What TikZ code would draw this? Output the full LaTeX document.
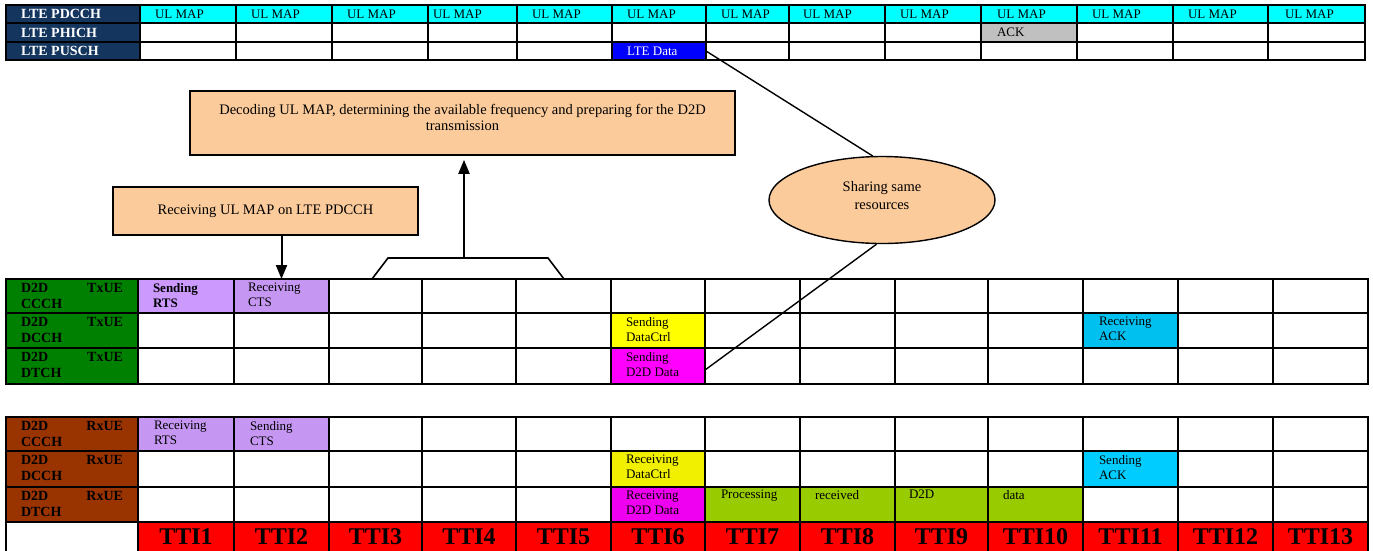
\documentclass[tikz,border=0pt]{standalone}
\usepackage{fontspec}
\setmainfont{Liberation Serif}
\usetikzlibrary{arrows.meta,shapes.geometric}
\definecolor{navy}{HTML}{14365E}
\definecolor{ulcyan}{HTML}{00FFFF}
\definecolor{ackgrey}{HTML}{C0C0C0}
\definecolor{ltedata}{HTML}{0000FF}
\definecolor{txgreen}{HTML}{008000}
\definecolor{rxbrown}{HTML}{993300}
\definecolor{lavA}{HTML}{CC99FF}
\definecolor{lavB}{HTML}{C597F2}
\definecolor{yelA}{HTML}{FFFF00}
\definecolor{yelB}{HTML}{F0F000}
\definecolor{magA}{HTML}{FF00FF}
\definecolor{magB}{HTML}{F000F0}
\definecolor{ackA}{HTML}{00C0F0}
\definecolor{ackB}{HTML}{00CCFF}
\definecolor{procgreen}{HTML}{99CC00}
\definecolor{ttired}{HTML}{FF0000}
\definecolor{peach}{HTML}{FBCB9B}

\def\TX{{6,140,236,332,428,517,612,706,789,885,981,1077,1173,1268,1365}}
\def\LX{{6,138,234,329,422,516,611,705,800,895,988,1083,1178,1273,1368}}

\newcommand{\mkrow}[5]{%
  \foreach \fc [count=\cc from 0] in {#5} {%
    \pgfmathsetmacro\xa{#2[\cc]}%
    \pgfmathsetmacro\xb{#2[\cc+1]}%
    \node[cellfill, fill=\fc, minimum width={\xb-\xa}, minimum height={(#4)-(#3)}]
      (#1-\cc) at ({(\xa+\xb)/2},{((#3)+(#4))/2}) {};%
  }}
\newcommand{\mkborder}[1]{%
  \foreach \cc in {0,...,13} {\draw[gridline] (#1-\cc.north west) rectangle (#1-\cc.south east);}}

\tikzset{
  cellfill/.style={inner sep=0pt, outer sep=0pt, draw=none},
  gridline/.style={draw=black, line width=1.8pt},
  ctext/.style={anchor=north west, inner sep=0pt, outer sep=0pt, align=left, font=\fontsize{13}{15}\selectfont},
  hdr/.style={anchor=north west, inner sep=0pt, outer sep=0pt, text width=102pt, align=left, font=\fontsize{14}{16}\selectfont\bfseries},
  tl/.style={anchor=west, inner sep=0pt, outer sep=0pt, font=\fontsize{13}{15}\selectfont},
  tophdr/.style={anchor=west, inner sep=0pt, outer sep=0pt, text=white, font=\fontsize{14}{16}\selectfont\bfseries},
  ttl/.style={inner sep=0pt, outer sep=0pt, font=\fontsize{24}{26}\selectfont\bfseries},
  callout/.style={draw=black, line width=1.6pt, fill=peach, inner sep=0pt},
  calltext/.style={inner sep=0pt, outer sep=0pt, align=center, font=\fontsize{14.5}{16.5}\selectfont},
  arr/.style={line width=2pt, -{Triangle[length=14pt,width=11pt]}},
  conn/.style={line width=1.4pt},
}

\begin{document}
\begin{tikzpicture}[x=1pt,y=-1pt]
\useasboundingbox (0,0) rectangle (1373,550);

% ---------- top LTE table ----------
\mkrow{top-0}{\TX}{5}{23}{navy,ulcyan,ulcyan,ulcyan,ulcyan,ulcyan,ulcyan,ulcyan,ulcyan,ulcyan,ulcyan,ulcyan,ulcyan,ulcyan}
\mkrow{top-1}{\TX}{23}{42}{navy,white,white,white,white,white,white,white,white,white,ackgrey,white,white,white}
\mkrow{top-2}{\TX}{42}{60}{navy,white,white,white,white,white,ltedata,white,white,white,white,white,white,white}
\mkborder{top-0}\mkborder{top-1}\mkborder{top-2}

\node[tophdr] (h-top-0) at ([xshift=15pt]top-0-0.west) {LTE PDCCH};
\node[tophdr] (h-top-1) at ([xshift=15pt]top-1-0.west) {LTE PHICH};
\node[tophdr] (h-top-2) at ([xshift=15pt]top-2-0.west) {LTE PUSCH};
\foreach \cc/\dx in {1/15,2/15,3/15,4/5,5/15,6/15,7/15,8/14,9/15,10/16,11/15,12/15,13/17}
  \node[tl] (ul-\cc) at ([xshift=\dx pt]top-0-\cc.west) {UL MAP};
\node[tl] (ack-top) at ([xshift=16pt]top-1-10.west) {ACK};
\node[tl, text=white] (ltedata-txt) at ([xshift=15pt]top-2-6.west) {LTE Data};

% ---------- Tx table ----------
\mkrow{tx-0}{\LX}{279}{313}{txgreen,lavA,lavB,white,white,white,white,white,white,white,white,white,white,white}
\mkrow{tx-1}{\LX}{313}{348}{txgreen,white,white,white,white,white,yelA,white,white,white,white,ackA,white,white}
\mkrow{tx-2}{\LX}{348}{384}{txgreen,white,white,white,white,white,magA,white,white,white,white,white,white,white}
\mkborder{tx-0}\mkborder{tx-1}\mkborder{tx-2}

\node[hdr] (h-tx-0) at ([shift={(15,4.5)}]tx-0-0.north west) {D2D\hfill TxUE\\CCCH};
\node[hdr] (h-tx-1) at ([shift={(15,4.5)}]tx-1-0.north west) {D2D\hfill TxUE\\DCCH};
\node[hdr] (h-tx-2) at ([shift={(15,4.5)}]tx-2-0.north west) {D2D\hfill TxUE\\DTCH};

\node[ctext, font=\fontsize{13}{15}\selectfont\bfseries] (t-tx0-1) at ([shift={(15,4)}]tx-0-1.north west) {Sending\\RTS};
\node[ctext] (t-tx0-2) at ([shift={(14,4)}]tx-0-2.north west) {Receiving\\CTS};
\node[ctext] (t-tx1-6) at ([shift={(15,4)}]tx-1-6.north west) {Sending\\DataCtrl};
\node[ctext] (t-tx1-11) at ([shift={(16,4)}]tx-1-11.north west) {Receiving\\ACK};
\node[ctext] (t-tx2-6) at ([shift={(15,4)}]tx-2-6.north west) {Sending\\D2D Data};

% ---------- Rx table ----------
\mkrow{rx-0}{\LX}{417}{451}{rxbrown,lavB,lavB,white,white,white,white,white,white,white,white,white,white,white}
\mkrow{rx-1}{\LX}{451}{487}{rxbrown,white,white,white,white,white,yelB,white,white,white,white,ackB,white,white}
\mkrow{rx-2}{\LX}{487}{522}{rxbrown,white,white,white,white,white,magB,procgreen,procgreen,procgreen,procgreen,white,white,white}
\mkrow{tti}{\LX}{522}{552}{white,ttired,ttired,ttired,ttired,ttired,ttired,ttired,ttired,ttired,ttired,ttired,ttired,ttired}
\mkborder{rx-0}\mkborder{rx-1}\mkborder{rx-2}\mkborder{tti}

\node[hdr] (h-rx-0) at ([shift={(15,4.5)}]rx-0-0.north west) {D2D\hfill RxUE\\CCCH};
\node[hdr] (h-rx-1) at ([shift={(15,4.5)}]rx-1-0.north west) {D2D\hfill RxUE\\DCCH};
\node[hdr] (h-rx-2) at ([shift={(15,4.5)}]rx-2-0.north west) {D2D\hfill RxUE\\DTCH};

\node[ctext] (t-rx0-1) at ([shift={(16,4)}]rx-0-1.north west) {Receiving\\RTS};
\node[ctext] (t-rx0-2) at ([shift={(16,4)}]rx-0-2.north west) {Sending\\CTS};
\node[ctext] (t-rx1-6) at ([shift={(15,4)}]rx-1-6.north west) {Receiving\\DataCtrl};
\node[ctext] (t-rx1-11) at ([shift={(16,4)}]rx-1-11.north west) {Sending\\ACK};
\node[ctext] (t-rx2-6) at ([shift={(15,4)}]rx-2-6.north west) {Receiving\\D2D Data};
\node[ctext] (t-rx2-7) at ([shift={(16,3)}]rx-2-7.north west) {Processing};
\node[ctext] (t-rx2-8) at ([shift={(15,3)}]rx-2-8.north west) {received};
\node[ctext] (t-rx2-9) at ([shift={(14,3)}]rx-2-9.north west) {D2D};
\node[ctext] (t-rx2-10) at ([shift={(15,3)}]rx-2-10.north west) {data};

\foreach \cc in {1,...,13}
  \node[ttl] (ttl-\cc) at (tti-\cc.center) {TTI\cc};

% ---------- callouts ----------
\node[callout, minimum width=545pt, minimum height=64pt] (decode) at (462.5,123) {};
\node[calltext, anchor=north] (decodetxt) at ([yshift=-14pt]decode.north)
  {Decoding UL MAP, determining the available frequency and preparing for the D2D\\transmission};

\node[callout, minimum width=305pt, minimum height=48pt, font=\fontsize{14.5}{16.5}\selectfont] (recv) at (265.5,211) {Receiving UL MAP on LTE PDCCH};

\node[draw=black, ellipse, fill=peach, line width=1.4pt, minimum width=226pt, minimum height=87pt, inner sep=0pt] (share) at (882,200) {};
\node[calltext, anchor=north, font=\fontsize{14.5}{17.5}\selectfont] (sharetxt) at (882,181.6) {Sharing same\\resources};

% receiving arrow
\draw[arr] (recv.south -| tx-0-2.north) -- (tx-0-2.north);

% bracket over TTI3-TTI5 and arrow to decoding box
\coordinate (brk-bl) at (372,279);
\coordinate (brk-tl) at (388,258);
\coordinate (brk-tr) at (548,258);
\coordinate (brk-br) at (564,279);
\coordinate (brk-top) at (464,258);
\draw[line width=1.6pt] (brk-bl) -- (brk-tl) -- (brk-tr) -- (brk-br);
\draw[arr, shorten >=4pt] (brk-top) -- (brk-top |- decode.south);

% sharing lines
\draw[conn] (top-2-6.east) -- (share.102);
\draw[conn] (share.263) -- ([yshift=-4pt]tx-2-6.east);
\end{tikzpicture}
\end{document}
